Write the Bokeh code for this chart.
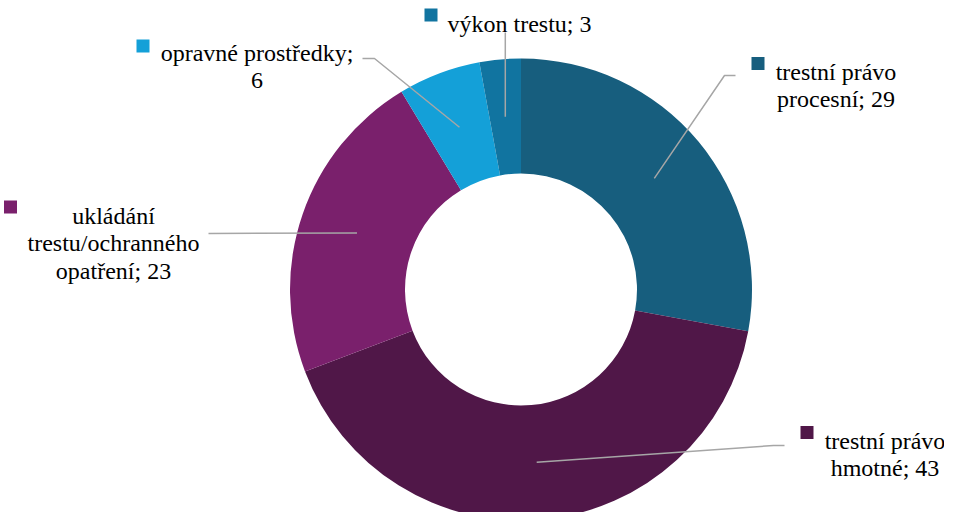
import math
from bokeh.plotting import figure
from bokeh.models import Range1d, ColumnDataSource
from bokeh.core.properties import value
from bokeh.embed import file_html
from bokeh.resources import INLINE

# ---- data ----
categories = ["trestní právo procesní", "trestní právo hmotné",
              "ukládání trestu/ochranného opatření", "opravné prostředky", "výkon trestu"]
values = [29, 43, 23, 6, 3]
colors = ["#175E7E", "#501748", "#7A206C", "#14A0D8", "#1174A0"]

# ---- layout (screen pixel coordinates of the 960x528 page) ----
W, H = 944, 512
def px(sx):
    return sx - 8
def py(sy):
    return 520 - sy

CX, CY = px(528.5), py(297)
R_OUT, R_IN = 231, 116
R_MID = (R_OUT + R_IN) / 2

# words per line for each label, label block centre x, first baseline y, square centre
wrap = [[2, 2], [2, 2], [1, 1, 2], [2, 1], [3]]
label_cx = [843.5, 892.5, 121, 264.5, 527]
label_base = [79.3, 448.3, 223.3, 60.7, 31]
square_pos = [(765.5, 71), (814.5, 440), (18, 214.5), (150.5, 53.5), (438.5, 22.5)]
# leader-line waypoints after the slice anchor (None x = same as anchor x)
leader_pts = [[(732, 83), (743, 83)],
              [(781, 453), (792, 453)],
              [(216, 241)],
              [(382, 66), (370, 66)],
              [(None, 40)]]
LINE_GAP = 27.5

total = sum(values)
starts, ends, mids = [], [], []
cum = 0
for v in values:
    t1 = cum / total * 2 * math.pi
    cum += v
    t2 = cum / total * 2 * math.pi
    starts.append(math.pi / 2 - t2)
    ends.append(math.pi / 2 - t1)
    mids.append((t1 + t2) / 2)

p = figure(width=W, height=H, x_range=Range1d(0, W), y_range=Range1d(0, H),
           output_backend="svg", toolbar_location=None,
           x_axis_type=None, y_axis_type=None, min_border=0)
p.outline_line_color = None

src = ColumnDataSource(dict(start=starts, end=ends, color=colors))
p.annular_wedge(x=CX, y=CY, inner_radius=R_IN, outer_radius=R_OUT,
                start_angle="start", end_angle="end", direction="anticlock",
                fill_color="color", line_color=None, source=src)

# leader lines from the middle of each ring segment
xs, ys = [], []
for m, pts in zip(mids, leader_pts):
    ax = CX + R_MID * math.sin(m)
    ay = CY + R_MID * math.cos(m)
    lx, ly = [ax], [ay]
    for (sx, sy) in pts:
        lx.append(ax if sx is None else px(sx))
        ly.append(py(sy))
    xs.append(lx)
    ys.append(ly)
p.multi_line(xs=xs, ys=ys, line_color="#A6A6A6", line_width=1.5)

# legend-key squares
p.rect(x=[px(s[0]) for s in square_pos], y=[py(s[1]) for s in square_pos],
       width=13, height=13, fill_color=colors, line_color=None)

# labels
for cat, v, wl, cxl, b in zip(categories, values, wrap, label_cx, label_base):
    words = f"{cat}; {v}".split(" ")
    i = 0
    for k, n in enumerate(wl):
        line = " ".join(words[i:i + n])
        i += n
        p.text(x=[px(cxl)], y=[py(b + k * LINE_GAP)], text=[line],
               text_font=value("Liberation Serif"), text_font_size="24px",
               text_align="center", text_baseline="alphabetic")

open("out.html", "w").write(file_html(p, INLINE))
